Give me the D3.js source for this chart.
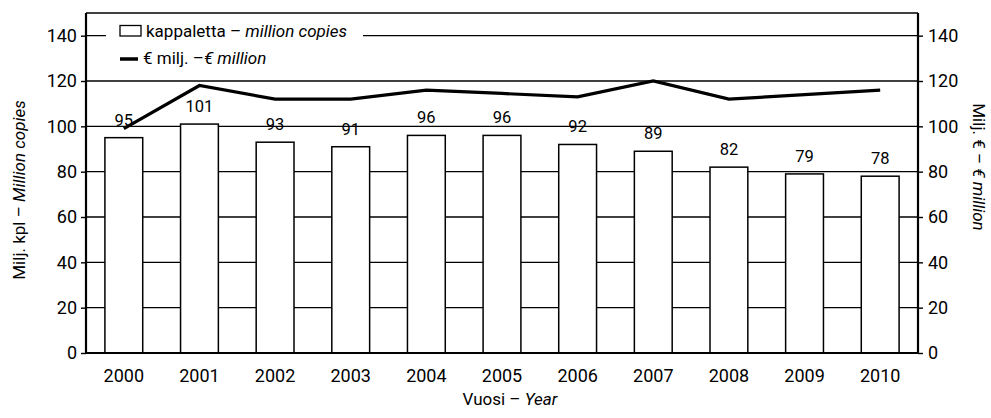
<!DOCTYPE html>
<html>
<head>
<meta charset="utf-8">
<script src="https://cdn.jsdelivr.net/npm/d3@7"></script>
<style>
  html, body { margin: 0; padding: 0; background: #fff; }
  svg text { font-family: "Roboto", "Open Sans", sans-serif; fill: #000; }
</style>
</head>
<body>
<svg id="chart" width="991" height="418"></svg>
<script>
// Years, copies sold (million) and sales value (€ million)
const years = ["2000", "2001", "2002", "2003", "2004", "2005", "2006", "2007", "2008", "2009", "2010"];
const copies = [95, 101, 93, 91, 96, 96, 92, 89, 82, 79, 78];
const euros = [99, 118, 112, 112, 116, 114.5, 113, 120, 112, 114, 116];
const ticks = [0, 20, 40, 60, 80, 100, 120, 140];

const svg = d3.select("#chart");
const m = { left: 86, right: 918, top: 13, bottom: 353 };

const x = d3.scaleBand().domain(years).range([m.left, m.right]).paddingInner(0.5).paddingOuter(0.25);
const y = d3.scaleLinear().domain([0, 150]).range([m.bottom, m.top]);
const y2 = d3.scaleLinear().domain([0, 150]).range([m.bottom, m.top]);

// horizontal grid lines (bars are drawn over them)
svg.append("g").selectAll("line").data(ticks.slice(1)).join("line")
  .attr("x1", m.left).attr("x2", m.right)
  .attr("y1", d => y(d)).attr("y2", d => y(d))
  .attr("stroke", "#000").attr("stroke-width", 1.4);

// top frame line
svg.append("line").attr("x1", m.left).attr("x2", m.right)
  .attr("y1", m.top).attr("y2", m.top).attr("stroke", "#000").attr("stroke-width", 1.5);

// bars
svg.append("g").selectAll("rect").data(copies).join("rect")
  .attr("x", (d, i) => x(years[i]))
  .attr("y", d => y(d))
  .attr("width", x.bandwidth())
  .attr("height", d => y(0) - y(d))
  .attr("fill", "#fff").attr("stroke", "#000").attr("stroke-width", 1.5);

// bar value labels
svg.append("g").selectAll("text").data(copies).join("text")
  .attr("x", (d, i) => x(years[i]) + x.bandwidth() / 2)
  .attr("y", d => y(d) - 12)
  .attr("text-anchor", "middle")
  .attr("font-size", 16.5)
  .text(d => d);

// sales value line
const line = d3.line()
  .x((d, i) => x(years[i]) + x.bandwidth() / 2)
  .y(d => y2(d));
svg.append("path").datum(euros)
  .attr("d", line)
  .attr("fill", "none").attr("stroke", "#000").attr("stroke-width", 3.2)
  .attr("stroke-linejoin", "miter");

// axes
const left = svg.append("g").attr("transform", `translate(${m.left},0)`)
  .call(d3.axisLeft(y).tickValues(ticks).tickSize(5).tickPadding(4));
const right = svg.append("g").attr("transform", `translate(${m.right},0)`)
  .call(d3.axisRight(y2).tickValues(ticks).tickSize(5).tickPadding(5));
const bottom = svg.append("g").attr("transform", `translate(0,${m.bottom})`)
  .call(d3.axisBottom(x).tickSize(0).tickPadding(16));
[left, right, bottom].forEach(g => {
  g.select(".domain").attr("stroke", "#000").attr("stroke-width", 2.2);
  g.selectAll(".tick line").attr("stroke", "#000").attr("stroke-width", 1.4);
  g.selectAll(".tick text").attr("font-size", 18).attr("font-family", null).attr("fill", "#000");
});
bottom.select(".domain").attr("d", `M${m.left},0H${m.right}`);
left.select(".domain").attr("d", `M0,${m.top}V${m.bottom}`);
right.select(".domain").attr("d", `M0,${m.top}V${m.bottom}`);

// legend
const lg = svg.append("g");
lg.append("rect").attr("x", 106).attr("y", 20).attr("width", 257).attr("height", 50).attr("fill", "#fff");
lg.append("rect").attr("x", 120).attr("y", 25.5).attr("width", 21).attr("height", 10.5)
  .attr("fill", "#fff").attr("stroke", "#000").attr("stroke-width", 1.3);
lg.append("line").attr("x1", 120).attr("x2", 138).attr("y1", 59).attr("y2", 59)
  .attr("stroke", "#000").attr("stroke-width", 3.5);
const t1 = lg.append("text").attr("x", 146).attr("y", 37).attr("font-size", 17);
t1.append("tspan").text("kappaletta – ");
t1.append("tspan").attr("font-style", "italic").text("million copies");
const t2 = lg.append("text").attr("x", 143).attr("y", 64).attr("font-size", 17);
t2.append("tspan").text("€ milj. –");
t2.append("tspan").attr("font-style", "italic").text("€ million");

// axis titles
const yt = svg.append("text").attr("transform", "translate(25,190) rotate(-90)")
  .attr("text-anchor", "middle").attr("font-size", 17);
yt.append("tspan").text("Milj. kpl – ");
yt.append("tspan").attr("font-style", "italic").text("Million copies");

const yt2 = svg.append("text").attr("transform", "translate(973,167) rotate(90)")
  .attr("text-anchor", "middle").attr("font-size", 17);
yt2.append("tspan").text("Milj. € – ");
yt2.append("tspan").attr("font-style", "italic").text("€ million");

const xt = svg.append("text").attr("x", 510).attr("y", 405)
  .attr("text-anchor", "middle").attr("font-size", 17);
xt.append("tspan").text("Vuosi – ");
xt.append("tspan").attr("font-style", "italic").text("Year");
</script>
</body>
</html>
